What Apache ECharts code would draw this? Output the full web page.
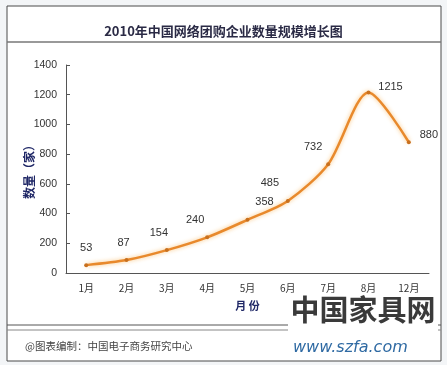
<!DOCTYPE html>
<html><head><meta charset="utf-8">
<script src="https://cdn.jsdelivr.net/npm/echarts@6/dist/echarts.min.js"></script>
<style>html,body{margin:0;padding:0;background:#f3f5f7;}#c{width:447px;height:365px;}</style>
</head><body><div id="c"></div>
<script>
var categories = ['1月','2月','3月','4月','5月','6月','7月','8月','12月'];
var values = [53, 87, 154, 240, 358, 485, 732, 1215, 880];
var yTicks = [0, 200, 400, 600, 800, 1000, 1200, 1400];
var labelOffsets = [[0,-4],[-3,-4],[-8,-4],[-12,-4],[17,-4],[-18,-4],[-15,-4],[22,8],[20,6]];

var chart = echarts.init(document.getElementById('c'), null, {renderer:'canvas'});
var F = '"Noto Sans CJK SC", "Liberation Sans", sans-serif';
chart.setOption({
  backgroundColor: 'transparent',
  animation: false,
  title: {
    text: '2010年中国网络团购企业数量规模增长图',
    left: 'center', top: 20,
    textStyle: {fontFamily: F, fontSize: 13, fontWeight: 'bold', color: '#2a2a45'}
  },
  grid: {left: 66, right: 18, top: 65, bottom: 92},
  xAxis: {
    type: 'category', data: categories, boundaryGap: true,
    axisLine: {lineStyle: {color: '#555', width: 1}},
    axisTick: {inside: true, length: 4, lineStyle: {color: '#555'}},
    axisLabel: {fontFamily: F, fontSize: 10, color: '#333', margin: 10},
    name: '月 份', nameLocation: 'middle', nameGap: 27,
    nameTextStyle: {fontFamily: F, fontSize: 11, fontWeight: 'bold', color: '#1f2766'}
  },
  yAxis: {
    type: 'value', min: yTicks[0], max: yTicks[yTicks.length-1], interval: 200,
    splitLine: {show: false},
    axisLine: {show: true, lineStyle: {color: '#555', width: 1}},
    axisTick: {show: true, inside: true, length: 4, lineStyle: {color: '#555'}},
    axisLabel: {fontFamily: '"Liberation Sans", sans-serif', fontSize: 10.5, color: '#333', margin: 9,
      formatter: function(v){ return String(v); }},
    name: '数量（家）', nameLocation: 'middle', nameGap: 31, nameRotate: 90, nameMoveOverlap: false,
    nameTextStyle: {fontFamily: F, fontSize: 12, fontWeight: 'bold', color: '#1f2766'}
  },
  series: [{
    type: 'line', smooth: 0.28,
    data: values.map(function(v, i){
      return {value: v, label: {offset: labelOffsets[i]}};
    }),
    symbol: 'circle', symbolSize: 4,
    itemStyle: {color: '#c8701e'},
    lineStyle: {color: '#e8892c', width: 2.5, shadowColor: 'rgba(250,190,110,0.9)', shadowBlur: 4},
    label: {show: true, position: 'top', distance: 6, fontFamily: '"Liberation Sans", sans-serif', fontSize: 11, color: '#333'}
  }],
  graphic: [
    {type: 'rect', z: -10, shape: {x: 7, y: 6, width: 434, height: 355}, style: {fill: '#ffffff', stroke: '#4a4a4a', lineWidth: 1}},
    {type: 'line', shape: {x1: 7, y1: 42, x2: 441, y2: 42}, style: {stroke: '#777', lineWidth: 1.5}},
    {type: 'line', shape: {x1: 7, y1: 325, x2: 441, y2: 325}, style: {stroke: '#555', lineWidth: 1}},
    {type: 'line', shape: {x1: 7, y1: 330, x2: 441, y2: 330}, style: {stroke: '#888', lineWidth: 1}},
    {type: 'text', left: 25, top: 341, style: {text: '@图表编制：中国电子商务研究中心', font: '10.5px ' + F, fill: '#444'}},
    {type: 'rect', shape: {x: 288, y: 296, width: 150, height: 36}, style: {fill: '#ffffff'}},
    {type: 'text', left: 290, top: 295, style: {text: '中国家具网', font: 'bold 29px ' + F, fill: '#3a3a3a', stroke: '#ffffff', lineWidth: 1}},
    {type: 'text', left: 293, top: 340, style: {text: 'www.szfa.com', font: 'italic 16px "DejaVu Sans", sans-serif', fill: '#2f6aa3'}}
  ]
});
</script>
</body></html>
